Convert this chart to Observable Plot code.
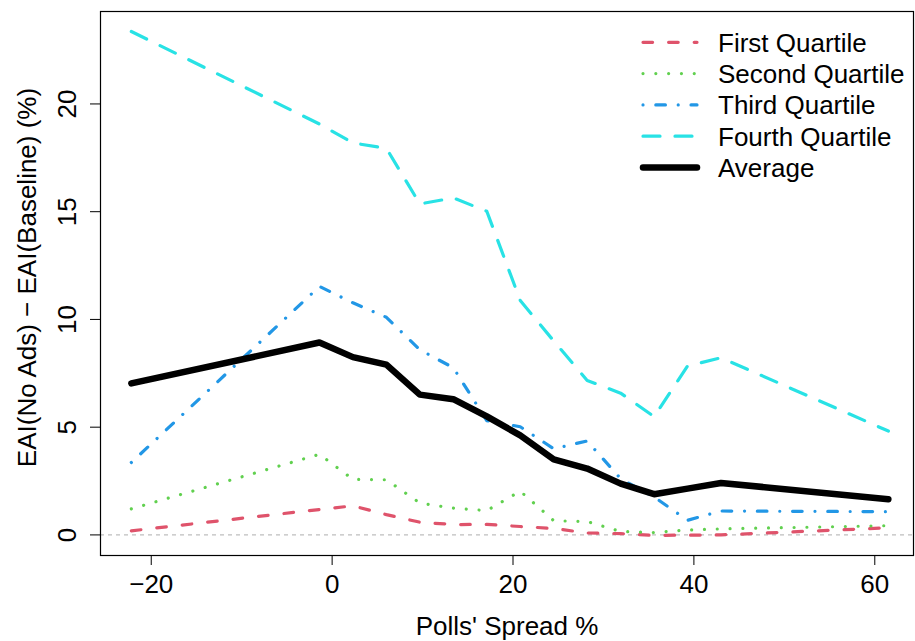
<!DOCTYPE html>
<html><head><meta charset="utf-8">
<script src="https://cdn.jsdelivr.net/npm/d3@7"></script>
<script src="https://cdn.jsdelivr.net/npm/@observablehq/plot@0.6"></script>
<style>
html,body{margin:0;padding:0;background:#fff;}
#chart{position:relative;width:915px;height:641px;font-family:"Liberation Sans",Arial,Helvetica,sans-serif;}
#chart svg{display:block;}
#legend{position:absolute;left:0;top:0;pointer-events:none;}
</style></head><body><div id="chart"></div>
<script>
// ---- data ----
const spread = [-22.2, -1.4, 2.3, 6.0, 9.7, 13.4, 17.1, 20.8, 24.5, 28.2, 31.9, 35.6, 39.3, 43.0, 61.5];
const firstQuartile  = [0.19, 1.18, 1.35, 0.94, 0.59, 0.48, 0.49, 0.39, 0.30, 0.09, 0.06, -0.02, -0.01, 0.0, 0.33];
const secondQuartile = [1.21, 3.74, 2.58, 2.56, 1.48, 1.24, 1.13, 2.03, 0.66, 0.62, 0.16, 0.11, 0.23, 0.28, 0.43];
const thirdQuartile  = [3.36, 11.53, 10.77, 10.10, 8.59, 7.76, 5.30, 5.02, 4.00, 4.36, 2.61, 1.76, 0.68, 1.11, 1.08];
const fourthQuartile = [23.36, 19.07, 18.19, 17.94, 15.36, 15.64, 15.02, 10.88, 9.00, 7.17, 6.58, 5.49, 7.84, 8.22, 4.82];
const average        = [7.03, 8.93, 8.25, 7.90, 6.51, 6.30, 5.50, 4.62, 3.51, 3.08, 2.38, 1.89, 2.15, 2.41, 1.66];

const seriesNames = ["First Quartile", "Second Quartile", "Third Quartile", "Fourth Quartile", "Average"];
const seriesValues = [firstQuartile, secondQuartile, thirdQuartile, fourthQuartile, average];
const xTicks = [-20, 0, 20, 40, 60];
const yTicks = [0, 5, 10, 15, 20];
const xLabel = "Polls' Spread %";
const yLabel = "EAI(No Ads) \u2212 EAI(Baseline) (%)";

// ---- styles ----
const seriesColors = ["#DF536B", "#61D04F", "#2297E6", "#28E2E5", "#000000"];
const seriesWidths = [3.2, 3.2, 3.2, 3.2, 6.5];
const seriesDashes = ["9.6,16", "0.01,12.8", "0.01,12.8,9.6,12.8", "17,15", null];
const FS = 26;
const FONT = '"Liberation Sans",Arial,Helvetica,sans-serif';

const lineMarks = seriesNames.map((name, i) =>
  Plot.line(spread.map((x, j) => ({x, y: seriesValues[i][j], name})), {
    x: "x", y: "y",
    stroke: seriesColors[i],
    strokeWidth: seriesWidths[i],
    strokeDasharray: seriesDashes[i] ?? undefined,
    strokeLinecap: "round",
    strokeLinejoin: "round"
  })
);

const plot = Plot.plot({
  width: 915, height: 641,
  marginLeft: 100, marginRight: 2, marginTop: 11, marginBottom: 86,
  style: {fontFamily: FONT, fontSize: FS + "px", color: "black", background: "white"},
  x: {domain: [-25.61, 64.28]},
  y: {domain: [-0.955, 24.29]},
  marks: [
    Plot.ruleY([0], {stroke: "#bebebe", strokeWidth: 1.1, strokeDasharray: "4,4"}),
    ...lineMarks,
    Plot.frame({stroke: "black", strokeWidth: 1.2}),
    Plot.axisX({ticks: xTicks, tickSize: 10, tickPadding: 9, label: null, fontSize: FS}),
    Plot.axisY({ticks: yTicks, tickSize: 10, fill: "none", label: null}),
    Plot.text(yTicks, {y: d => d, text: d => String(d), frameAnchor: "left", rotate: -90,
      dx: -25, lineAnchor: "bottom", textAnchor: "middle", fontSize: FS, fill: "black"}),
    Plot.text([yLabel], {frameAnchor: "left", rotate: -90, dx: -65, dy: -6,
      lineAnchor: "bottom", textAnchor: "middle", fontSize: FS, fill: "black"}),
    Plot.text([xLabel], {frameAnchor: "bottom", dy: 79.5, lineAnchor: "bottom",
      textAnchor: "middle", fontSize: FS, fill: "black"})
  ]
});
const chart = document.getElementById("chart");
chart.appendChild(plot);

// ---- legend (overlay, top-right inside plot) ----
const legend = d3.create("svg").attr("id", "legend").attr("width", 915).attr("height", 200);
const rowY0 = 42.3, rowStep = 31.3;
seriesNames.forEach((name, i) => {
  const cy = rowY0 + i * rowStep;
  const ln = legend.append("line")
    .attr("x1", 643).attr("x2", 697).attr("y1", cy).attr("y2", cy)
    .attr("stroke", seriesColors[i]).attr("stroke-width", seriesWidths[i])
    .attr("stroke-linecap", "round");
  if (seriesDashes[i]) ln.attr("stroke-dasharray", seriesDashes[i]);
  legend.append("text").attr("x", 718).attr("y", cy + 9.4)
    .attr("font-family", FONT).attr("font-size", FS).attr("fill", "black").text(name);
});
chart.appendChild(legend.node());
</script></body></html>
